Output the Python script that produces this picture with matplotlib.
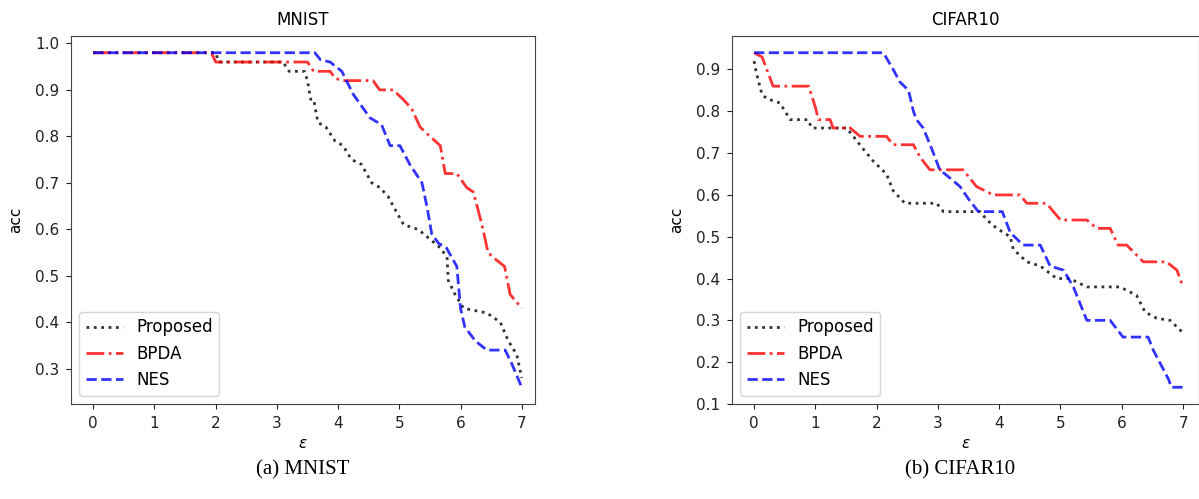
import matplotlib
matplotlib.use("Agg")
import matplotlib.pyplot as plt

# ---------------- data ----------------
# MNIST
mn_prop_x = [0, 2.0, 2.05, 3.1, 3.2, 3.45, 3.5, 3.55, 3.6, 3.67, 3.8, 3.95, 4.08, 4.22, 4.38, 4.55,
             4.68, 4.82, 4.9, 5.07, 5.3, 5.4, 5.67, 5.78, 5.8, 5.91, 6.05, 6.43, 6.65, 6.78, 6.92, 7.0]
mn_prop_y = [.98, .98, .96, .96, .94, .94, .92, .88, .88, .83, .82, .79, .78, .75, .74, .70,
             .69, .67, .65, .61, .60, .59, .56, .54, .49, .46, .43, .42, .40, .36, .33, .28]

mn_bpda_x = [0, 1.93, 2.0, 3.5, 3.6, 3.87, 3.95, 4.08, 4.57, 4.68, 4.9, 5.06, 5.2, 5.34, 5.5, 5.67,
             5.75, 5.94, 6.1, 6.21, 6.35, 6.45, 6.53, 6.72, 6.81, 7.0]
mn_bpda_y = [.98, .98, .96, .96, .94, .94, .925, .92, .92, .90, .90, .88, .86, .82, .80, .78,
             .72, .72, .69, .68, .61, .55, .54, .52, .46, .43]

mn_nes_x = [0, 3.62, 3.71, 3.87, 4.06, 4.25, 4.52, 4.71, 4.85, 5.01, 5.17, 5.37, 5.45, 5.53, 5.64,
            5.77, 5.94, 6.0, 6.07, 6.24, 6.43, 6.73, 6.84, 7.0]
mn_nes_y = [.98, .98, .965, .96, .94, .89, .84, .825, .78, .78, .74, .70, .65, .59, .57,
            .56, .52, .43, .39, .36, .34, .34, .31, .26]

# CIFAR10
cf_prop_x = [0, 0.04, 0.13, 0.21, 0.42, 0.59, 0.88, 0.94, 1.51, 1.62, 1.78, 1.95, 2.16, 2.27, 2.46,
             2.98, 3.09, 3.69, 3.8, 3.96, 4.18, 4.23, 4.45, 4.67, 4.94, 5.15, 5.29, 5.43, 5.97,
             6.24, 6.38, 6.57, 6.79, 7.0]
cf_prop_y = [.92, .89, .84, .83, .82, .78, .78, .76, .76, .74, .71, .68, .65, .61, .58,
             .58, .56, .56, .54, .52, .50, .47, .44, .43, .40, .40, .39, .38, .38,
             .36, .32, .305, .30, .27]

cf_bpda_x = [0, 0.13, 0.31, 0.89, 1.0, 1.05, 1.24, 1.29, 1.57, 1.73, 2.16, 2.27, 2.6, 2.71, 2.87,
             3.41, 3.63, 3.9, 4.34, 4.45, 4.77, 5.0, 5.43, 5.59, 5.81, 5.94, 6.08, 6.35, 6.73,
             6.9, 7.0]
cf_bpda_y = [.94, .93, .86, .86, .81, .78, .78, .76, .76, .74, .74, .72, .72, .69, .66,
             .66, .62, .60, .60, .58, .58, .54, .54, .52, .52, .48, .48, .44, .44,
             .42, .38]

cf_nes_x = [0, 2.11, 2.27, 2.38, 2.52, 2.6, 2.65, 2.76, 2.9, 3.03, 3.2, 3.36, 3.5, 3.66, 4.05,
            4.18, 4.39, 4.67, 4.83, 5.05, 5.21, 5.43, 5.81, 6.02, 6.43, 6.51, 6.76, 6.81, 7.0]
cf_nes_y = [.94, .94, .90, .87, .85, .80, .78, .76, .71, .66, .64, .62, .59, .56, .56,
            .51, .48, .48, .43, .42, .38, .30, .30, .26, .26, .23, .16, .14, .14]

series_labels = ["Proposed", "BPDA", "NES"]
xticks = [0, 1, 2, 3, 4, 5, 6, 7]
mn_yticks = [0.3, 0.4, 0.5, 0.6, 0.7, 0.8, 0.9, 1.0]
cf_yticks = [0.1, 0.2, 0.3, 0.4, 0.5, 0.6, 0.7, 0.8, 0.9]

# ---------------- figure ----------------
W, H = 1199, 499
fig = plt.figure(figsize=(W / 100, H / 100), dpi=100)

def px_axes(l, t, r, b):
    return fig.add_axes([l / W, 1 - b / H, (r - l) / W, (b - t) / H])

ax1 = px_axes(71, 36, 535, 404)
ax2 = px_axes(732, 36, 1199, 404)

styles = [dict(color="black", ls=":", alpha=0.8),
          dict(color="red", ls="-.", alpha=0.8),
          dict(color="blue", ls="--", alpha=0.8)]

def draw(ax, data, title, yticks, ylim, xlim):
    for (x, y), st, lab in zip(data, styles, series_labels):
        ax.plot(x, y, lw=2, label=lab, **st)
    ax.set_title(title, fontsize=12, pad=8)
    ax.set_xlabel(r"$\epsilon$", fontsize=11)
    ax.set_ylabel("acc", fontsize=11)
    ax.yaxis.set_label_coords(-0.103, 0.5)
    ax.set_xticks(xticks)
    ax.set_yticks(yticks)
    ax.set_ylim(*ylim)
    ax.set_xlim(*xlim)
    ax.tick_params(labelsize=11, colors="#222222", pad=5)
    for s in ax.spines.values():
        s.set_color("#444444")
    ax.legend(loc="lower left", fontsize=12, framealpha=0.8, handlelength=2.2)

draw(ax1, [(mn_prop_x, mn_prop_y), (mn_bpda_x, mn_bpda_y), (mn_nes_x, mn_nes_y)],
     "MNIST", mn_yticks, (0.224, 1.016), (-0.364, 7.217))
draw(ax2, [(cf_prop_x, cf_prop_y), (cf_bpda_x, cf_bpda_y), (cf_nes_x, cf_nes_y)],
     "CIFAR10", cf_yticks, (0.1, 0.98), (-0.36, 7.26))

fig.text(303 / W, 1 - 470 / H, "(a) MNIST", ha="center", va="center",
         fontsize=15, family="Liberation Serif")
fig.text(960 / W, 1 - 470 / H, "(b) CIFAR10", ha="center", va="center",
         fontsize=15, family="Liberation Serif")

fig.savefig("out.png", dpi=100)
